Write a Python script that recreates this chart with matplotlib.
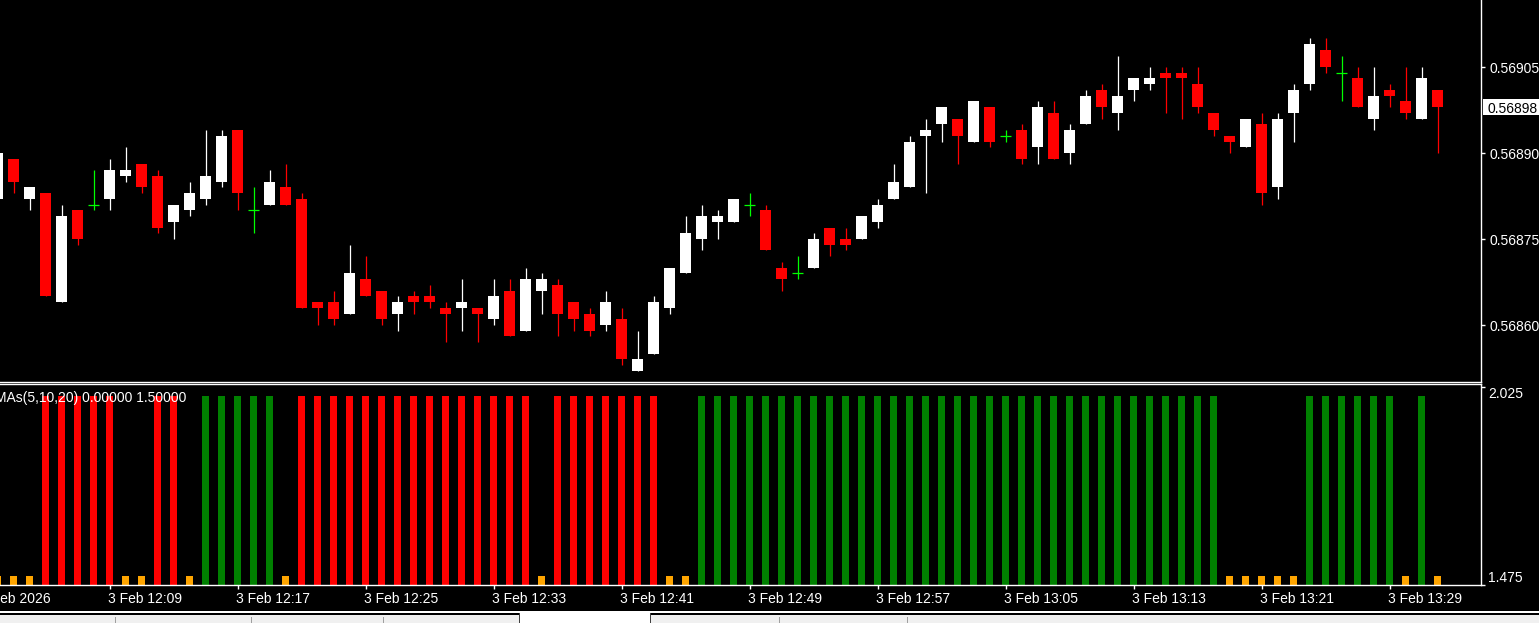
import numpy as np
import matplotlib.pyplot as plt
from matplotlib.patches import Rectangle

plt.rcParams['font.family'] = ['Liberation Sans', 'DejaVu Sans']

W, H = 1539, 623

# M1 bars 12:02 .. 13:32, oldest first (first one is cut by the left edge)
opens = [0.56882, 0.56889, 0.56882, 0.56883, 0.56864, 0.56880, 0.56881, 0.56882, 0.56886, 0.56888,
         0.56886, 0.56878, 0.56880, 0.56882, 0.56885, 0.56894, 0.56880, 0.56881, 0.56884, 0.56882,
         0.56864, 0.56864, 0.56862, 0.56868, 0.56866, 0.56862, 0.56865, 0.56865, 0.56863, 0.56863,
         0.56863, 0.56861, 0.56866, 0.56859, 0.56866, 0.56867, 0.56864, 0.56862, 0.56860, 0.56861,
         0.56852, 0.56855, 0.56863, 0.56869, 0.56875, 0.56878, 0.56878, 0.56881, 0.56880, 0.56870,
         0.56869, 0.56870, 0.56877, 0.56875, 0.56875, 0.56878, 0.56882, 0.56884, 0.56893, 0.56895,
         0.56896, 0.56892, 0.56898, 0.56893, 0.56894, 0.56891, 0.56897, 0.56890, 0.56895, 0.56901,
         0.56897, 0.56901, 0.56902, 0.56904, 0.56904, 0.56902, 0.56897, 0.56893, 0.56891, 0.56895,
         0.56884, 0.56897, 0.56902, 0.56908, 0.56904, 0.56903, 0.56896, 0.56901, 0.56899, 0.56896,
         0.56901]
highs = [0.56890, 0.56889, 0.56884, 0.56883, 0.56881, 0.56880, 0.56887, 0.56889, 0.56891, 0.56888,
         0.56887, 0.56881, 0.56885, 0.56894, 0.56894, 0.56894, 0.56884, 0.56887, 0.56888, 0.56883,
         0.56864, 0.56866, 0.56874, 0.56872, 0.56866, 0.56865, 0.56866, 0.56867, 0.56864, 0.56868,
         0.56863, 0.56868, 0.56868, 0.56870, 0.56869, 0.56868, 0.56864, 0.56863, 0.56866, 0.56863,
         0.56859, 0.56865, 0.56870, 0.56879, 0.56881, 0.56880, 0.56882, 0.56883, 0.56881, 0.56871,
         0.56872, 0.56876, 0.56877, 0.56877, 0.56879, 0.56882, 0.56888, 0.56893, 0.56896, 0.56898,
         0.56896, 0.56899, 0.56898, 0.56894, 0.56895, 0.56899, 0.56899, 0.56895, 0.56901, 0.56902,
         0.56907, 0.56903, 0.56905, 0.56905, 0.56905, 0.56905, 0.56897, 0.56893, 0.56896, 0.56897,
         0.56897, 0.56902, 0.56910, 0.56910, 0.56907, 0.56905, 0.56905, 0.56902, 0.56905, 0.56905,
         0.56901]
lows = [0.56882, 0.56883, 0.56880, 0.56865, 0.56864, 0.56874, 0.56880, 0.56880, 0.56885, 0.56883,
        0.56876, 0.56875, 0.56879, 0.56881, 0.56884, 0.56880, 0.56876, 0.56881, 0.56881, 0.56863,
        0.56860, 0.56860, 0.56862, 0.56865, 0.56860, 0.56859, 0.56862, 0.56863, 0.56857, 0.56859,
        0.56857, 0.56860, 0.56858, 0.56859, 0.56862, 0.56858, 0.56859, 0.56858, 0.56859, 0.56853,
        0.56852, 0.56855, 0.56862, 0.56869, 0.56873, 0.56875, 0.56878, 0.56879, 0.56873, 0.56866,
        0.56868, 0.56870, 0.56872, 0.56873, 0.56875, 0.56877, 0.56882, 0.56884, 0.56883, 0.56892,
        0.56888, 0.56892, 0.56891, 0.56892, 0.56888, 0.56888, 0.56889, 0.56888, 0.56895, 0.56896,
        0.56894, 0.56899, 0.56901, 0.56897, 0.56896, 0.56897, 0.56893, 0.56890, 0.56891, 0.56881,
        0.56882, 0.56892, 0.56901, 0.56904, 0.56899, 0.56898, 0.56894, 0.56898, 0.56896, 0.56896,
        0.56890]
closes = [0.56890, 0.56885, 0.56884, 0.56865, 0.56879, 0.56875, 0.56881, 0.56887, 0.56887, 0.56884,
          0.56877, 0.56881, 0.56883, 0.56886, 0.56893, 0.56883, 0.56880, 0.56885, 0.56881, 0.56863,
          0.56863, 0.56861, 0.56869, 0.56865, 0.56861, 0.56864, 0.56864, 0.56864, 0.56862, 0.56864,
          0.56862, 0.56865, 0.56858, 0.56868, 0.56868, 0.56862, 0.56861, 0.56859, 0.56864, 0.56854,
          0.56854, 0.56864, 0.56870, 0.56876, 0.56879, 0.56879, 0.56882, 0.56881, 0.56873, 0.56868,
          0.56869, 0.56875, 0.56874, 0.56874, 0.56879, 0.56881, 0.56885, 0.56892, 0.56894, 0.56898,
          0.56893, 0.56899, 0.56892, 0.56893, 0.56889, 0.56898, 0.56889, 0.56894, 0.56900, 0.56898,
          0.56900, 0.56903, 0.56903, 0.56903, 0.56903, 0.56898, 0.56894, 0.56892, 0.56896, 0.56883,
          0.56896, 0.56901, 0.56909, 0.56905, 0.56904, 0.56898, 0.56900, 0.56900, 0.56897, 0.56903,
          0.56898]

# indicator state per bar: 1 = up (green), -1 = down (red), 0 = flat (orange)
signal = [0, 0, 0, -1, -1, -1, -1, -1, 0, 0,
          -1, -1, 0, 1, 1, 1, 1, 1, 0, -1,
          -1, -1, -1, -1, -1, -1, -1, -1, -1, -1,
          -1, -1, -1, -1, 0, -1, -1, -1, -1, -1,
          -1, -1, 0, 0, 1, 1, 1, 1, 1, 1,
          1, 1, 1, 1, 1, 1, 1, 1, 1, 1,
          1, 1, 1, 1, 1, 1, 1, 1, 1, 1,
          1, 1, 1, 1, 1, 1, 1, 0, 0, 0,
          0, 0, 1, 1, 1, 1, 1, 1, 0, 1,
          0]
hist_levels = {1: 2.0, -1: 2.0, 0: 1.5}
hist_colors = {1: '#008000', -1: '#ff0000', 0: '#ffa500'}

price_ticks = [0.56860, 0.56875, 0.56890, 0.56905]
last_price = 0.56898
time_tick_bars = [-2, 6, 14, 22, 30, 38, 46, 54, 62, 70, 78, 86]
time_tick_labels = ['3 Feb 2026', '3 Feb 12:09', '3 Feb 12:17', '3 Feb 12:25', '3 Feb 12:33',
                    '3 Feb 12:41', '3 Feb 12:49', '3 Feb 12:57', '3 Feb 13:05', '3 Feb 13:13',
                    '3 Feb 13:21', '3 Feb 13:29']
ind_label = 'MAs(5,10,20) 0.00000 1.50000'

x = np.arange(len(opens)) - 1
o, h, l, c = map(np.array, (opens, highs, lows, closes))

fig = plt.figure(figsize=(W / 100, H / 100), dpi=100, facecolor='black')
xlim = (-13.5 / 16, (1481 - 13.5) / 16)

# ---- price panel
ax = fig.add_axes([0, 1 - 382 / H, 1481 / W, 382 / H], facecolor='black')
ax.set_xlim(xlim)
ax.set_ylim(0.5685006, 0.5691669)

up = c > o
dn = c < o
doji = c == o
body_col = np.where(up, 'white', '#ff0000')
wick_col = np.where(up, 'white', np.where(dn, '#ff0000', '#00ff00'))
ax.vlines(x, l, h, colors=wick_col, lw=0.9)
ax.bar(x, c - o, bottom=o, width=11 / 16, color=body_col, linewidth=0)
ax.hlines(c[doji], x[doji] - 5.5 / 16, x[doji] + 5.5 / 16, colors='#00ff00', lw=0.9)

ax.set_xticks([])
ax.yaxis.tick_right()
ax.set_yticks(price_ticks)
ax.set_yticklabels(['%.5f' % p for p in price_ticks])
ax.tick_params(axis='y', colors='white', length=3, width=1, pad=3, labelsize=10)
for t in ax.get_yticklabels():
    t.set_va('center_baseline')
for s in ('left', 'top'):
    ax.spines[s].set_visible(False)
for s in ('right', 'bottom'):
    ax.spines[s].set_color('white')
    ax.spines[s].set_linewidth(1)

# current price tag
hh = 8 * 0.00015 / 86
ax.add_patch(Rectangle((1.0013, last_price - hh), 0.05, 2 * hh, transform=ax.get_yaxis_transform(),
                       facecolor='white', edgecolor='none', clip_on=False))
ax.text(1.0047, last_price, '%.5f' % last_price, transform=ax.get_yaxis_transform(),
        ha='left', va='center_baseline', color='black', fontsize=10, clip_on=False)

# ---- indicator panel
ax2 = fig.add_axes([0, 1 - 585 / H, 1481 / W, 201 / H], facecolor='black')
ax2.set_xlim(xlim)
ax2.set_ylim(1.475, 2.033)
ax2.bar(x, [hist_levels[s] for s in signal], width=7 / 16,
        color=[hist_colors[s] for s in signal], linewidth=0)

ax2.yaxis.tick_right()
ax2.set_yticks([1.475, 2.025])
ax2.set_yticklabels(['1.475', '2.025'])
ax2.tick_params(axis='y', colors='white', length=3, width=1, pad=2, labelsize=10)
lbl_lo, lbl_hi = ax2.get_yticklabels()
lbl_lo.set_va('bottom')
lbl_hi.set_va('top')

ax2.set_xticks([b for b in time_tick_bars if b >= 0])
ax2.set_xticklabels([])
ax2.tick_params(axis='x', colors='white', length=3, width=1)
for b, lab in zip(time_tick_bars, time_tick_labels):
    ax2.text(b - 1 / 16, -18 / 201, lab, transform=ax2.get_xaxis_transform(),
             ha='left', va='baseline', color='white', fontsize=10, clip_on=False)

ax2.spines['left'].set_visible(False)
for s in ('right', 'top', 'bottom'):
    ax2.spines[s].set_color('white')
    ax2.spines[s].set_linewidth(1)

fig.text(186 / W, 1 - 402 / H, ind_label, ha='right', va='baseline', color='white',
         fontsize=10, zorder=10)


# ---- tab strip at the bottom
def px_rect(x0, y0, x1, y1, color):
    fig.add_artist(Rectangle((x0 / W, 1 - y1 / H), (x1 - x0) / W, (y1 - y0) / H,
                             transform=fig.transFigure, facecolor=color, edgecolor='none'))


px_rect(0, 610.5, W, 613, 'white')
px_rect(0, 613, W, 614.5, 'black')
px_rect(0, 614.5, W, H, '#f0f0f0')
px_rect(519, 613, 651, H, 'white')
for sx in (115, 251, 383, 779, 907):
    px_rect(sx, 617, sx + 1, H, '#a0a0a0')
for sx in (519, 650):
    px_rect(sx, 613, sx + 1, H, '#404040')

fig.savefig('out.png', dpi=100, facecolor='black')
